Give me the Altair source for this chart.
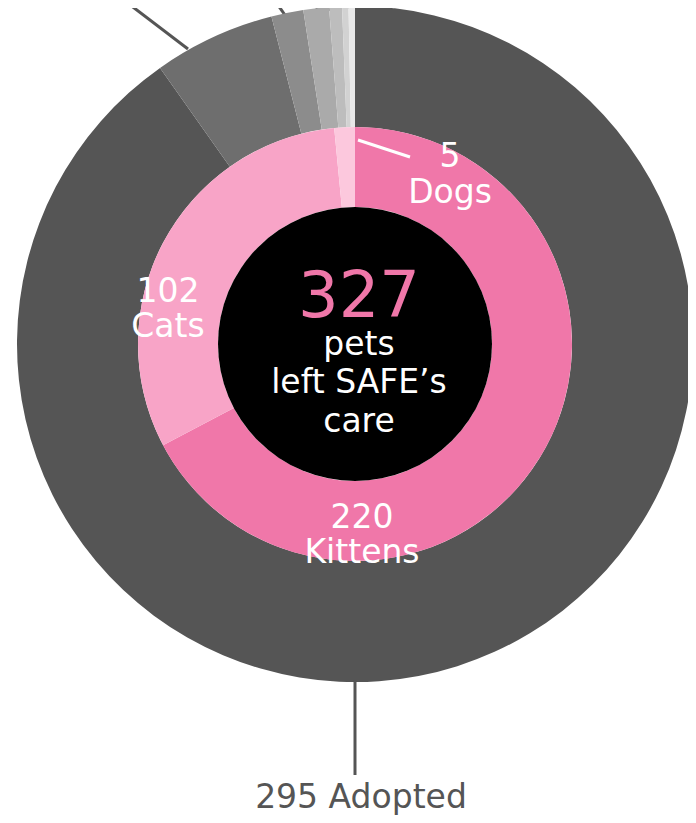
import altair as alt
import pandas as pd

# ---- data ----
outcome_labels = ["Adopted", "Transferred", "Returned to owner", "Died", "Euthanized", "Missing", "Other"]
outcome_values = [295, 19, 5, 4, 2, 1, 1]
outcome_colors = ["#555555", "#6e6e6e", "#8c8c8c", "#aaaaaa", "#bdbdbd", "#d2d2d2", "#e8e8e8"]

species_labels = ["Kittens", "Cats", "Dogs"]
species_values = [220, 102, 5]
species_colors = ["#f077a9", "#f8a4c7", "#fcc8dd"]

total_pets = 327
center_lines = ["pets", "left SAFE\u2019s", "care"]

# ---- layout (pixels, svg coordinates) ----
W, H = 680, 807
CX, CY = 347, 336
R_OUT, R_MID, R_IN = 338, 217, 137
FONT = "DejaVu Sans"

xs = alt.Scale(domain=[-CX, W - CX], nice=False, zero=False)
ys = alt.Scale(domain=[CY - H, CY], nice=False, zero=False)

outer_df = pd.DataFrame({
    "label": outcome_labels, "value": outcome_values,
    "color": outcome_colors, "order": list(range(len(outcome_labels)))})
inner_df = pd.DataFrame({
    "label": species_labels, "value": species_values,
    "color": species_colors, "order": list(range(len(species_labels)))})

# leader lines for the outcome labels (labels themselves lie above the crop)
leaders = pd.DataFrame({
    "x": [-167, -70, -37, -25, -10, -5],
    "y": [295, 329, 333, 333, 333, 335],
    "x2": [-293, -90, -43, -19, 2, 11],
    "y2": [391, 357, 353, 353, 353, 351],
})

outer = alt.Chart(outer_df).mark_arc(innerRadius=R_MID, outerRadius=R_OUT).encode(
    theta=alt.Theta("value:Q", stack=True),
    order=alt.Order("order:Q"),
    color=alt.Color("color:N", scale=None),
    x=alt.value(CX), y=alt.value(CY),
)
inner = alt.Chart(inner_df).mark_arc(innerRadius=R_IN, outerRadius=R_MID).encode(
    theta=alt.Theta("value:Q", stack=True),
    order=alt.Order("order:Q"),
    color=alt.Color("color:N", scale=None),
    x=alt.value(CX), y=alt.value(CY),
)
hole = alt.Chart(pd.DataFrame({"a": [0]})).mark_arc(
    innerRadius=0, outerRadius=R_IN, color="black").encode(
    theta=alt.value(0), theta2=alt.value(6.2832),
    x=alt.value(CX), y=alt.value(CY),
)

top_rules = alt.Chart(leaders).mark_rule(color="#555555", strokeWidth=3).encode(
    x=alt.X("x:Q", scale=xs, axis=None), y=alt.Y("y:Q", scale=ys, axis=None),
    x2="x2:Q", y2="y2:Q",
)

other_rules_df = pd.DataFrame({
    "x": [0, 3], "y": [-336, 204], "x2": [0, 55], "y2": [-431, 187],
    "color": ["#555555", "#ffffff"],
})
other_rules = alt.Chart(other_rules_df).mark_rule(strokeWidth=3).encode(
    x=alt.X("x:Q", scale=xs, axis=None), y=alt.Y("y:Q", scale=ys, axis=None),
    x2="x2:Q", y2="y2:Q", color=alt.Color("color:N", scale=None),
)

labels_df = pd.DataFrame({
    "text": [str(species_values[0]), species_labels[0],
             str(species_values[1]), species_labels[1],
             str(species_values[2]), species_labels[2],
             center_lines[0], center_lines[1], center_lines[2],
             f"{outcome_values[0]} {outcome_labels[0]}"],
    "x": [7, 7, -187, -187, 95, 95, 4, 4, 4, 6],
    "y": [-184, -219, 42, 7, 177, 141, -11, -49, -88, -464],
    "color": ["#ffffff"] * 9 + ["#555555"],
})
labels = alt.Chart(labels_df).mark_text(
    font=FONT, fontSize=33, align="center", baseline="alphabetic").encode(
    x=alt.X("x:Q", scale=xs, axis=None), y=alt.Y("y:Q", scale=ys, axis=None),
    text="text:N", color=alt.Color("color:N", scale=None),
)

total_df = pd.DataFrame({"text": [str(total_pets)], "x": [4], "y": [27]})
total = alt.Chart(total_df).mark_text(
    font=FONT, fontSize=64, align="center", baseline="alphabetic", color="#f077a9").encode(
    x=alt.X("x:Q", scale=xs, axis=None), y=alt.Y("y:Q", scale=ys, axis=None),
    text="text:N",
)

chart = alt.layer(
    top_rules, outer, inner, hole, other_rules, labels, total
).properties(
    width=W, height=H, autosize=alt.AutoSizeParams(type="none"), padding=0
).configure_view(stroke=None)

chart.save("out.html", embed_options={"renderer": "svg", "actions": False})
